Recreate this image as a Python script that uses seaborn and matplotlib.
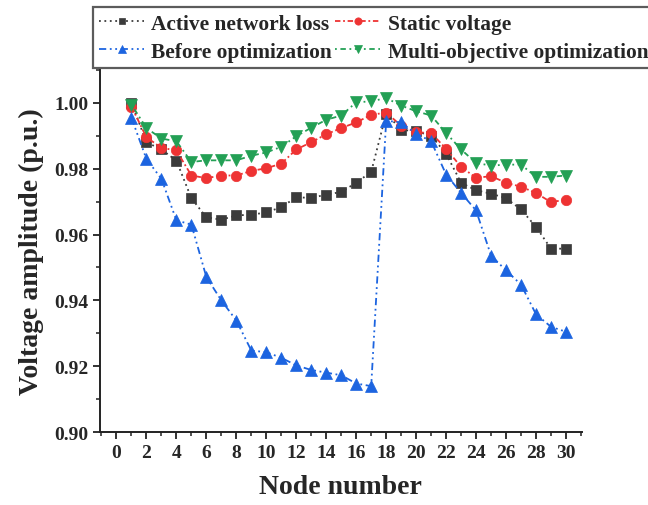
import matplotlib
matplotlib.use("Agg")
import matplotlib.pyplot as plt
import seaborn as sns
import numpy as np
from matplotlib.ticker import MultipleLocator

nodes = list(range(1, 31))
active_loss = [1.000, 0.988, 0.9858, 0.9824, 0.971, 0.9652, 0.9645, 0.9658, 0.966, 0.9667,
               0.9683, 0.9713, 0.9711, 0.9721, 0.9729, 0.9757, 0.979, 0.9967, 0.9918, 0.9913,
               0.990, 0.9845, 0.9757, 0.9734, 0.9724, 0.971, 0.9676, 0.9623, 0.9557, 0.9557]
static_voltage = [0.9988, 0.9895, 0.9863, 0.9855, 0.9779, 0.9771, 0.9779, 0.9779, 0.9793, 0.9801,
                  0.9815, 0.9858, 0.988, 0.9904, 0.9923, 0.994, 0.9963, 0.997, 0.993, 0.991,
                  0.9908, 0.986, 0.9805, 0.9772, 0.9777, 0.9757, 0.9745, 0.9726, 0.9698, 0.9706]
before_opt = [0.9954, 0.9829, 0.9769, 0.9643, 0.963, 0.9471, 0.940, 0.9339, 0.9248, 0.9243,
              0.9226, 0.9203, 0.9189, 0.9181, 0.9173, 0.9148, 0.914, 0.9945, 0.994, 0.9906,
              0.9883, 0.9782, 0.9726, 0.9673, 0.9536, 0.9491, 0.9448, 0.9358, 0.932, 0.9305]
multi_obj = [0.9994, 0.9923, 0.9891, 0.9883, 0.982, 0.9825, 0.9825, 0.9825, 0.9839, 0.9849,
             0.9866, 0.9898, 0.9924, 0.9948, 0.9961, 1.0001, 1.0004, 1.0014, 0.9991, 0.9974,
             0.9961, 0.9908, 0.9858, 0.9817, 0.9809, 0.9812, 0.9812, 0.9775, 0.9775, 0.9779]

labels = ["Active network loss", "Static voltage", "Before optimization", "Multi-objective optimization"]

sns.set_style("ticks")
plt.rcParams['font.family'] = ['Liberation Serif', 'DejaVu Serif']
plt.rcParams['font.weight'] = 'bold'

fig = plt.figure(figsize=(6.48, 5.06), dpi=100)
ax = fig.add_axes([0.1543, 0.1437, 0.8977 - 0.1543, 0.8603 - 0.1437])

series = [
    (active_loss, labels[0], "s", "#3b3b3b", (0, (1, 2)), 7.0),
    (static_voltage, labels[1], "o", "#EE3333", (0, (3, 1.5, 1, 1.5)), 7.5),
    (before_opt, labels[2], "^", "#1C64E0", (0, (4, 2, 1, 2, 1, 2)), 8.0),
    (multi_obj, labels[3], "v", "#23A055", (0, (1, 2, 3, 2)), 8.0),
]
handles = {}
for vals, lab, mk, col, ls, ms in series:
    sns.lineplot(x=nodes, y=vals, ax=ax, marker=mk, color=col, linestyle=ls,
                 linewidth=1.3, markersize=ms, markeredgewidth=0.5,
                 markeredgecolor=col, label=lab, legend=False)
    handles[lab] = ax.lines[-1]

ax.set_xlim(-1.1, 31.05)
ax.set_ylim(0.90, 1.01)
ax.xaxis.set_major_locator(MultipleLocator(2))
ax.xaxis.set_minor_locator(MultipleLocator(1))
ax.yaxis.set_minor_locator(MultipleLocator(0.01))
ax.set_yticks(np.arange(0.90, 1.001, 0.02))
ax.set_yticklabels([f"{v:.2f}" for v in np.arange(0.90, 1.001, 0.02)])
ax.tick_params(axis='both', which='major', direction='out', length=5, width=1.3,
               labelsize=14, color='#222222')
ax.tick_params(axis='both', which='minor', direction='out', length=3, width=1.1, color='#222222')
for lbl in ax.get_xticklabels() + ax.get_yticklabels():
    lbl.set_fontweight('bold')
sns.despine(ax=ax)
for sp in ['left', 'bottom']:
    ax.spines[sp].set_linewidth(1.4)
    ax.spines[sp].set_color('#222222')

ax.set_xlabel("Node number", fontsize=20, fontweight='bold', labelpad=9)
ax.set_ylabel("Voltage amplitude (p.u.)", fontsize=20, fontweight='bold', labelpad=7)

order = [labels[0], labels[2], labels[1], labels[3]]
leg = fig.legend([handles[l] for l in order], order, loc='upper left',
                 bbox_to_anchor=(0.143, 0.984), ncol=2, frameon=True, fancybox=False,
                 prop={'size': 15.4, 'weight': 'bold'}, borderaxespad=0, borderpad=0.3,
                 labelspacing=0.38, handlelength=2.1, handletextpad=0.35, columnspacing=0.15,
                 numpoints=1, markerscale=0.7)
leg.get_frame().set_edgecolor('#333333')
leg.get_frame().set_linewidth(1.6)

fig.savefig("out.png", dpi=100)
